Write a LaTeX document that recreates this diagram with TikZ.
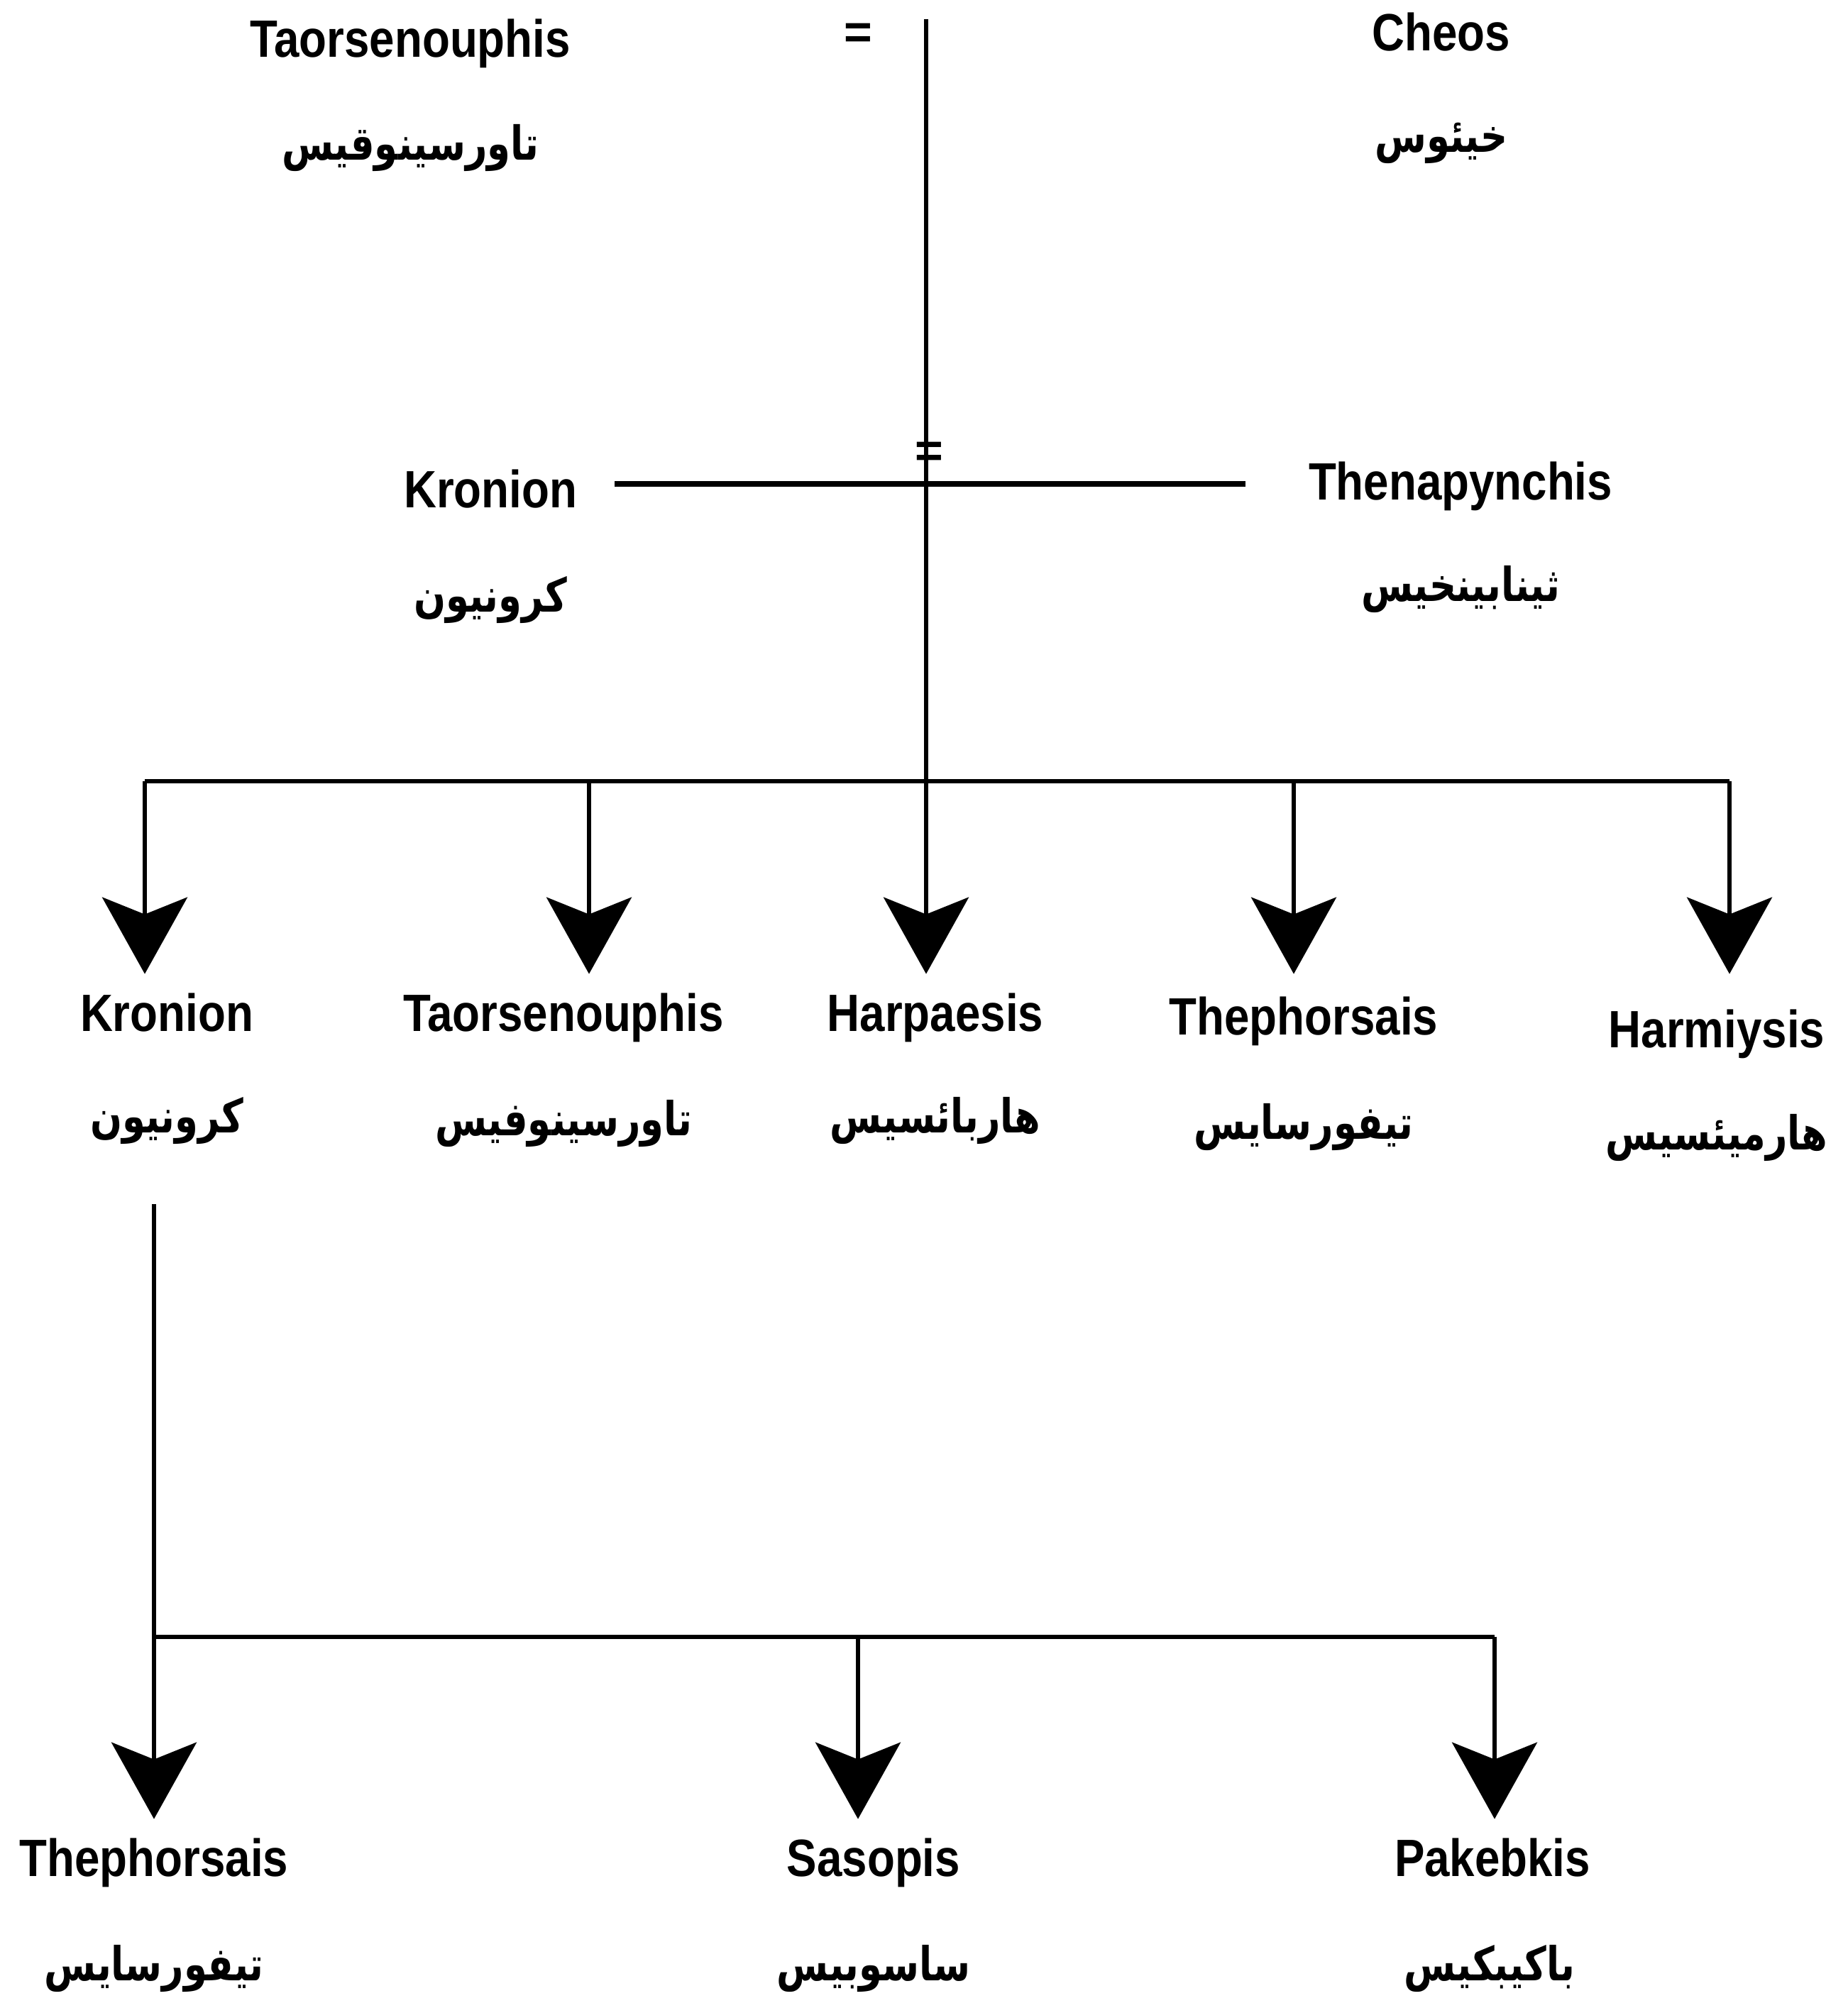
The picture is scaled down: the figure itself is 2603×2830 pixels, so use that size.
\documentclass[tikz,border=0pt]{standalone}
\usepackage{fontspec}
\setmainfont{Liberation Sans}
\newfontfamily\latinfont[FakeStretch=0.86]{Liberation Sans}
\newfontfamily\arabicfont[Script=Arabic,FakeStretch=0.8]{DejaVu Sans}
\TeXXeTstate=1
\usetikzlibrary{arrows.meta}
\begin{document}
\begin{tikzpicture}[x=0.5pt,y=-0.5pt,
  lat/.style={font=\latinfont\bfseries\fontsize{37}{40}\selectfont, inner sep=0pt, text height=27pt, text depth=0pt},
  ar/.style={font=\arabicfont\bfseries\fontsize{33}{40}\selectfont, inner sep=0pt},
  eqs/.style={font=\bfseries\fontsize{34}{36}\selectfont, inner sep=0pt},
  ln/.style={line width=2.8pt},
  arr/.style={line width=2.8pt, shorten >=13pt, -{Stealth[length=54pt,width=60pt,inset=12pt]}}]
\useasboundingbox (0,0) rectangle (2603,2830);
% top generation
\node[lat] (taor0) at (578,54) {Taorsenouphis};
\node[ar] (taor0a) at (578,208) {\beginR تاورسينوقيس\endR};
\node[lat] (cheos) at (2031,45) {Cheos};
\node[ar] (cheosa) at (2031,202) {\beginR خيئوس\endR};
\node[eqs] (eq1) at (1209,51) {=};
\coordinate (top) at (1305,27);
% second generation
\node[lat] (kron1) at (691,688) {Kronion};
\node[ar] (kron1a) at (691,845) {\beginR كرونيون\endR};
\node[lat] (then) at (2058,677) {Thenapynchis};
\node[ar] (thena) at (2058,830) {\beginR ثينابينخيس\endR};
\node[eqs] (eq2) at (1309,641) {=};
\coordinate (mL) at (866,682);
\coordinate (mR) at (1755,682);
% bus
\coordinate (bus) at (1305,1101);
\coordinate (b1) at (204,1101);
\coordinate (b2) at (830,1101);
\coordinate (b3) at (1305,1101);
\coordinate (b4) at (1823,1101);
\coordinate (b5) at (2437,1101);
% children
\node[lat] (kron2) at (235,1426) {Kronion};
\node[ar] (kron2a) at (235,1579) {\beginR كرونيون\endR};
\node[lat] (taor2) at (794,1426) {Taorsenouphis};
\node[ar] (taor2a) at (794,1583) {\beginR تاورسينوفيس\endR};
\node[lat] (harp) at (1318,1426) {Harpaesis};
\node[ar] (harpa) at (1318,1579) {\beginR هاربائسيس\endR};
\node[lat] (theph1) at (1837,1431) {Thephorsais};
\node[ar] (theph1a) at (1837,1588) {\beginR تيفورسايس\endR};
\node[lat] (harm) at (2419,1449) {Harmiysis};
\node[ar] (harma) at (2419,1603) {\beginR هارميئسيس\endR};
% grandchildren
\coordinate (kdown) at (217,1697);
\coordinate (c1) at (217,2307);
\coordinate (c2) at (1209,2307);
\coordinate (c3) at (2106,2307);
\node[lat] (theph2) at (217,2617) {Thephorsais};
\node[ar] (theph2a) at (217,2774) {\beginR تيفورسايس\endR};
\node[lat] (saso) at (1231,2617) {Sasopis};
\node[ar] (sasoa) at (1231,2774) {\beginR ساسوبيس\endR};
\node[lat] (pake) at (2103,2617) {Pakebkis};
\node[ar] (pakea) at (2099,2774) {\beginR باكيبكيس\endR};
% connectors
\draw[ln] (top) -- (bus);
\draw[line width=3.6pt] (mL) -- (mR);
\draw[ln] (b1) -- (b5);
\draw[arr] (b1) -- (b1 |- kron2.north);
\draw[arr] (b2) -- (b2 |- kron2.north);
\draw[arr] (b3) -- (b3 |- kron2.north);
\draw[arr] (b4) -- (b4 |- kron2.north);
\draw[arr] (b5) -- (b5 |- kron2.north);
\draw[ln] (kdown) -- (c1) -- (c3);
\draw[arr] (c1) -- (c1 |- theph2.north);
\draw[arr] (c2) -- (c2 |- theph2.north);
\draw[arr] (c3) -- (c3 |- theph2.north);
\end{tikzpicture}
\end{document}
